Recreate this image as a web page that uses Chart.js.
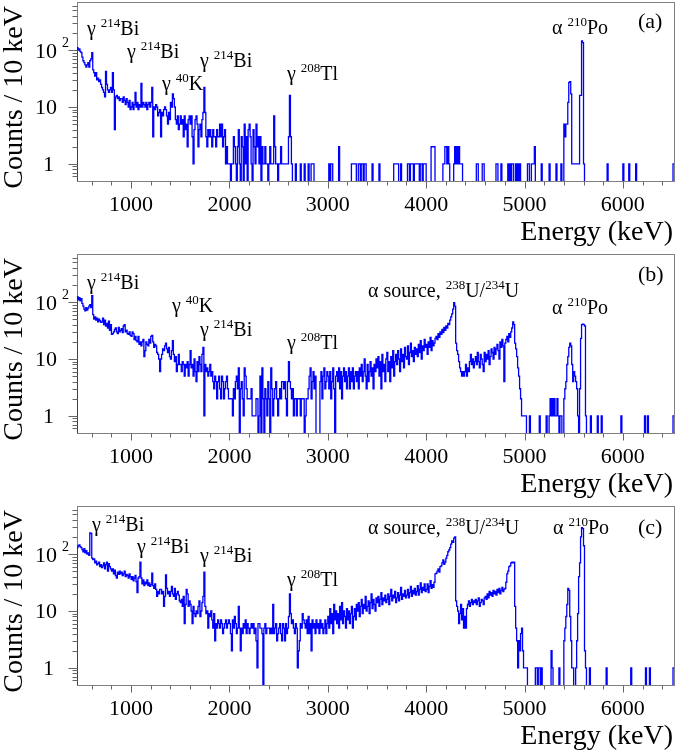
<!DOCTYPE html>
<html>
<head>
<meta charset="utf-8">
<script src="https://cdn.jsdelivr.net/npm/chart.js@4.4.1/dist/chart.umd.min.js"></script>
<style>
  html, body { margin: 0; padding: 0; background: #fff; overflow: hidden; }
  canvas { display: block; }
</style>
</head>
<body>
<canvas id="panelA" width="678" height="252"></canvas>
<canvas id="panelB" width="678" height="252"></canvas>
<canvas id="panelC" width="678" height="251"></canvas>
<script>
// 10 keV bins, first bin at 400 keV, one row = 100 keV
const binStart = 400;
const binWidth = 10;

const countsA = [
  0,0,0,0,0,110,100,105,95,90,
  75,65,60,55,50,55,60,50,65,70,
  90,45,40,35,40,30,32,28,30,25,
  22,20,18,15,42,25,20,18,20,22,
  18,40,20,4,15,16,14,15,13,14,
  14,12,15,13,11,14,12,10,13,9,
  10,12,9,11,18,10,12,9,11,10,
  26,10,12,11,10,12,9,11,12,10,
  12,22,3,10,9,11,10,7,8,9,
  3,8,7,9,10,9,7,5,8,6,
  12,10,17,14,10,6,5,7,4,5,
  7,5,6,3,7,4,5,2,6,7,
  5,7,3,1,4,6,7,5,2,4,
  5,3,6,8,22,8,3,2,4,3,
  4,3,2,4,3,3,2,4,3,3,
  5,3,5,2,3,4,1,2,1,1,
  1,0,1,1,3,2,1,0,2,4,
  1,0,3,2,0,5,1,3,0,4,
  5,3,1,0,4,2,1,5,2,3,
  1,3,0,2,1,1,2,1,1,0,
  1,2,1,1,1,7,2,1,1,0,
  1,1,2,1,1,1,1,1,1,1,
  3,16,3,1,0,0,0,1,0,0,
  0,0,1,0,0,0,1,0,0,0,
  1,0,0,1,1,1,0,0,0,0,
  0,0,0,0,0,0,0,0,0,0,
  0,1,0,1,1,0,0,0,0,0,
  0,2,0,0,0,0,0,0,0,0,
  0,0,0,0,1,1,1,1,1,0,
  0,1,1,0,1,1,0,1,1,0,
  0,0,0,0,0,1,0,0,0,0,
  0,0,1,0,0,0,0,0,0,0,
  0,0,0,0,0,0,0,1,1,1,
  1,1,0,0,1,0,0,0,0,0,
  0,1,1,0,1,1,1,0,1,1,
  1,1,1,0,1,1,0,1,1,1,
  0,0,0,0,0,2,2,2,2,0,
  0,0,0,0,0,0,0,1,1,2,
  2,1,2,1,0,0,0,0,1,2,
  1,2,1,2,1,1,1,0,0,0,
  0,0,0,0,0,0,0,0,0,0,
  0,1,1,0,0,0,0,1,1,0,
  0,0,0,0,0,0,0,0,0,0,
  0,1,1,0,0,0,1,0,0,0,
  0,0,0,1,0,1,0,1,1,0,
  0,1,0,1,0,1,0,0,0,0,
  0,0,0,1,1,0,0,1,1,1,
  2,0,0,0,0,0,0,1,0,0,
  0,0,0,0,0,1,0,0,0,0,
  0,0,1,0,0,0,0,1,0,0,
  5,3,5,5,12,27,28,17,1,1,
  1,1,1,1,1,1,16,16,145,135,
  1,0,0,0,0,0,0,0,0,0,
  0,0,0,0,0,0,0,0,0,0,
  0,0,0,0,1,0,0,0,0,0,
  0,0,0,0,0,0,0,0,0,0,
  1,0,0,0,0,0,1,0,0,0,
  0,0,0,1,0,0,0,0,0,0,
  0,0,0,0,0,0,0,0,0,0,
  0,0,0,0,0,0,0,0,0,0,
  0,0,0,0,0,0,0,0,0,0,
  0,1,1,0,0,0,0,0,0,0
];

const countsB = [
  0,0,0,0,0,125,110,120,105,115,
  95,85,75,70,80,72,78,85,90,80,
  130,60,50,55,48,52,45,50,47,44,
  45,52,40,48,38,42,35,46,32,40,
  27,28,30,33,35,30,28,36,30,32,
  34,29,38,40,30,32,28,27,30,26,
  25,30,28,22,25,21,20,25,18,20,
  17,20,22,11,14,20,18,17,22,19,
  25,26,20,16,18,17,13,12,10,6,
  10,12,15,14,17,19,15,13,16,11,
  10,14,21,12,9,11,6,8,12,8,
  8,6,9,8,5,8,7,9,5,8,
  14,7,8,5,10,6,4,9,6,11,
  8,6,12,16,1,8,6,7,5,6,
  8,5,6,4,3,5,4,2,4,5,
  3,2,5,4,2,3,4,5,3,2,
  2,2,2,1,3,2,4,5,3,7,
  0,3,4,2,1,7,5,3,2,2,
  2,2,3,1,1,1,1,2,2,0,
  1,5,0,7,2,0,3,2,1,4,
  2,0,7,3,1,2,3,4,2,1,
  2,3,2,4,4,3,4,2,1,4,
  9,4,3,2,3,1,2,2,1,2,
  2,2,1,2,2,2,0,1,2,2,
  3,5,7,2,4,6,3,5,0,0,
  0,0,4,6,2,5,7,3,4,6,
  5,3,6,2,4,7,3,0,5,6,
  4,7,3,6,2,5,7,4,6,3,
  5,7,3,6,4,7,3,5,6,4,
  6,3,7,5,8,4,6,10,5,3,
  8,4,6,9,5,7,3,8,6,10,
  7,11,5,9,3,12,6,8,4,10,
  13,6,9,4,11,7,14,5,9,12,
  8,14,10,6,15,9,12,7,16,11,
  10,17,8,13,19,11,14,9,16,12,
  15,11,18,13,21,10,17,14,22,16,
  18,12,20,16,24,14,21,17,19,23,
  25,22,28,24,30,27,33,29,36,32,
  38,35,42,40,48,55,62,75,98,85,
  19,14,12,9,7,6,5,6,5,6,
  8,5,7,6,9,12,8,10,7,9,
  11,8,13,9,7,12,10,8,6,13,
  9,12,10,14,8,11,15,13,10,16,
  12,15,18,14,10,20,16,22,17,4,
  19,22,25,20,28,24,30,35,45,40,
  19,15,11,7,5,3,2,1,1,1,
  1,1,0,0,0,1,0,0,0,0,
  0,0,0,0,0,1,0,0,0,0,
  0,0,1,0,0,1,2,1,2,1,
  2,1,1,2,1,0,1,1,0,0,
  2,3,4,8,11,16,19,17,8,4,
  6,5,4,3,1,0,3,23,40,41,
  40,38,1,0,0,0,0,1,0,0,
  0,0,0,0,1,0,0,0,1,0,
  0,0,0,0,0,0,0,0,0,0,
  0,0,0,0,0,0,0,0,1,0,
  0,0,0,0,0,0,0,0,0,0,
  0,0,0,0,0,0,0,0,0,0,
  0,0,1,0,0,1,0,0,0,0,
  0,0,0,0,0,0,0,0,0,0,
  0,0,0,0,0,0,0,0,0,0,
  0,1,1,0,0,0,0,0,0,0
];

const countsC = [
  0,0,0,0,0,130,140,145,135,130,
  120,110,125,105,115,100,105,95,235,230,
  85,80,82,70,75,65,68,72,60,65,
  58,62,70,55,65,72,50,68,60,55,
  50,55,45,52,42,38,48,44,50,45,
  48,42,45,50,40,44,42,38,45,40,
  36,40,34,38,42,33,21,38,40,72,
  38,30,35,28,32,30,35,28,31,27,
  29,46,28,25,30,24,18,22,20,24,
  24,20,22,12,18,43,25,20,22,18,
  22,27,20,18,25,16,20,22,19,15,
  14,16,12,18,6,13,24,20,12,15,
  13,10,6,12,9,8,10,9,12,15,
  8,10,14,18,48,12,9,10,5,9,
  8,10,7,5,9,3,6,5,7,6,
  5,7,6,4,5,6,7,5,6,7,
  6,4,2,7,5,8,6,4,5,12,
  5,2,5,4,6,5,7,4,6,5,
  4,5,6,5,6,4,5,3,1,6,
  6,5,5,4,0,5,6,4,5,5,
  5,4,5,4,13,4,5,6,3,4,
  5,6,4,3,6,5,3,6,4,5,
  8,20,9,6,7,5,4,6,5,1,
  2,3,6,5,9,7,6,5,7,4,
  8,4,6,2,7,5,6,4,7,5,
  6,4,7,5,6,4,5,7,4,6,
  8,5,11,6,9,4,13,7,10,6,
  9,5,12,7,14,6,10,8,5,11,
  7,10,6,9,12,5,8,11,7,13,
  10,14,8,12,16,9,13,11,18,10,
  12,15,9,14,20,11,16,13,10,17,
  14,18,12,16,21,13,17,15,19,14,
  16,20,13,18,24,15,19,17,22,14,
  17,21,15,19,26,16,20,18,23,17,
  19,24,17,21,27,18,23,20,25,19,
  22,28,19,24,31,21,26,23,30,22,
  24,30,21,27,34,25,29,26,32,45,
  46,50,55,48,60,62,70,79,66,72,
  85,95,110,118,130,150,170,160,190,200,
  15,12,10,6,9,13,7,11,5,8,
  5,11,13,15,12,14,16,13,15,14,
  16,13,15,17,12,14,16,15,13,17,
  18,16,20,17,22,19,21,18,23,20,
  22,19,24,21,25,20,23,26,22,24,
  25,32,45,50,60,62,70,72,70,72,
  12,5,3,1,3,2,4,5,2,1,
  1,1,1,0,0,0,0,0,0,0,
  0,1,1,0,1,1,0,1,0,0,
  0,0,0,0,0,0,0,2,1,0,
  0,0,0,0,0,1,0,0,0,0,
  3,5,8,13,25,23,8,3,1,1,
  0,0,1,3,9,40,70,200,290,280,
  140,2,1,0,0,0,1,0,0,0,
  0,0,0,0,0,0,0,0,0,0,
  0,0,0,1,0,0,0,0,0,0,
  0,0,0,0,0,0,0,0,0,0,
  0,0,0,0,0,0,0,0,1,0,
  0,0,0,0,0,0,0,0,0,0,
  0,0,0,1,0,0,0,1,0,0,
  0,0,0,0,0,0,0,0,0,0,
  0,0,0,0,0,0,0,0,0,0,
  0,1,1,0,0,0,0,0,0,0
];

const xTicks = [600, 800, 1000, 1200, 1400, 1600, 1800, 2000, 2200, 2400, 2600, 2800, 3000,
  3200, 3400, 3600, 3800, 4000, 4200, 4400, 4600, 4800, 5000, 5200, 5400, 5600, 5800, 6000, 6200, 6400];
const xLabels = [1000, 2000, 3000, 4000, 5000, 6000];
const yMajor = [1, 10, 100];
const yMinor = [0.6, 0.7, 0.8, 0.9, 2, 3, 4, 5, 6, 7, 8, 9, 20, 30, 40, 50, 60, 70, 80, 90, 200, 300, 400, 500, 600];

const notesA = [
  ['γ ^{214}Bi', 87, 35], ['γ ^{214}Bi', 127, 58], ['γ ^{40}K', 162, 90],
  ['γ ^{214}Bi', 200, 67], ['γ ^{208}Tl', 287, 80], ['α ^{210}Po', 552, 34]
];
const notesB = [
  ['γ ^{214}Bi', 87, 37], ['γ ^{40}K', 172, 60], ['γ ^{214}Bi', 200, 84],
  ['γ ^{208}Tl', 287, 97], ['α source, ^{238}U/^{234}U', 368, 45], ['α ^{210}Po', 552, 62]
];
const notesC = [
  ['γ ^{214}Bi', 92, 27], ['γ ^{214}Bi', 137, 49], ['γ ^{214}Bi', 200, 58],
  ['γ ^{208}Tl', 287, 82], ['α source, ^{238}U/^{234}U', 368, 30], ['α ^{210}Po', 553, 30]
];

const serif = '"Liberation Serif", "Times New Roman", serif';

function histPoints(counts) {
  // zero bins go below the axis, like ROOT does on a log scale
  const pts = counts.map((c, i) => ({ x: binStart + i * binWidth, y: c > 0 ? c : 0.1 }));
  pts.push({ x: binStart + counts.length * binWidth, y: 0.1 });
  return pts;
}

function drawLatex(ctx, str, x, y, size) {
  const parts = str.split(/\^\{([^}]*)\}/);
  let cx = x;
  parts.forEach((p, i) => {
    if (!p) return;
    const sup = i % 2 === 1;
    ctx.font = (sup ? Math.round(size * 0.66) : size) + 'px ' + serif;
    ctx.fillText(p, cx, sup ? y - size * 0.42 : y);
    cx += ctx.measureText(p).width;
  });
}

function makePanel(id, counts, notes, letter, letterY) {
  const axes = {
    id: 'rootAxes',
    beforeDatasetsDraw(chart) {
      const { ctx, chartArea: a } = chart;
      ctx.save();
      ctx.strokeStyle = '#808080';
      ctx.lineWidth = 1;
      ctx.strokeRect(Math.round(a.left) + 0.5, Math.round(a.top) + 0.5,
        Math.round(a.right - a.left), Math.round(a.bottom - a.top));
      ctx.restore();
    },
    afterDraw(chart) {
      const { ctx, chartArea: a } = chart;
      const xs = chart.scales.x, ys = chart.scales.y;
      const left = Math.round(a.left) + 0.5;
      const bottom = Math.round(a.bottom) + 0.5;
      ctx.save();
      ctx.strokeStyle = '#666';
      ctx.lineWidth = 1;
      ctx.beginPath();
      xTicks.forEach(v => {
        const px = Math.round(xs.getPixelForValue(v)) + 0.5;
        ctx.moveTo(px, bottom);
        ctx.lineTo(px, bottom + (xLabels.includes(v) ? 7 : 4));
      });
      yMajor.concat(yMinor).forEach(v => {
        const py = Math.round(ys.getPixelForValue(v)) + 0.5;
        ctx.moveTo(left, py);
        ctx.lineTo(left - (yMajor.includes(v) ? 9 : 5), py);
      });
      ctx.stroke();

      ctx.fillStyle = '#000';
      ctx.textBaseline = 'alphabetic';
      ctx.font = '22px ' + serif;
      ctx.textAlign = 'center';
      xLabels.forEach(v => ctx.fillText(String(v), xs.getPixelForValue(v), 211));

      ctx.textAlign = 'right';
      yMajor.forEach(v => {
        const py = ys.getPixelForValue(v) + 7.5;
        ctx.font = '22px ' + serif;
        if (v === 1) ctx.fillText('1', 54, py);
        else if (v === 10) ctx.fillText('10', 57, py);
        else {
          ctx.fillText('10', 57, py);
          ctx.textAlign = 'left';
          ctx.font = '14px ' + serif;
          ctx.fillText('2', 62, py - 11);
          ctx.textAlign = 'right';
        }
      });

      ctx.font = '28px ' + serif;
      ctx.textAlign = 'right';
      ctx.fillText('Energy (keV)', 673, 240);
      ctx.save();
      ctx.translate(22, 6);
      ctx.rotate(-Math.PI / 2);
      ctx.fillText('Counts / 10 keV', 0, 0);
      ctx.restore();

      ctx.textAlign = 'left';
      notes.forEach(n => drawLatex(ctx, n[0], n[1], n[2], 20));
      ctx.font = '22px ' + serif;
      ctx.fillText(letter, 638, letterY);
      ctx.restore();
    }
  };

  return new Chart(document.getElementById(id), {
    type: 'line',
    data: {
      datasets: [{
        data: histPoints(counts),
        stepped: true,
        borderColor: '#0000ff',
        borderWidth: 1.3,
        pointRadius: 0,
        fill: false
      }]
    },
    options: {
      responsive: false,
      animation: false,
      devicePixelRatio: 1,
      layout: { padding: { left: 77, right: 4, top: 2, bottom: id === 'panelC' ? 70 : 71 } },
      scales: {
        x: { type: 'linear', min: 450, max: 6520, display: false },
        y: { type: 'logarithmic', min: 0.5, max: 700, display: false }
      },
      plugins: { legend: { display: false }, tooltip: { enabled: false } }
    },
    plugins: [axes]
  });
}

makePanel('panelA', countsA, notesA, '(a)', 28);
makePanel('panelB', countsB, notesB, '(b)', 29);
makePanel('panelC', countsC, notesC, '(c)', 30);
</script>
</body>
</html>
